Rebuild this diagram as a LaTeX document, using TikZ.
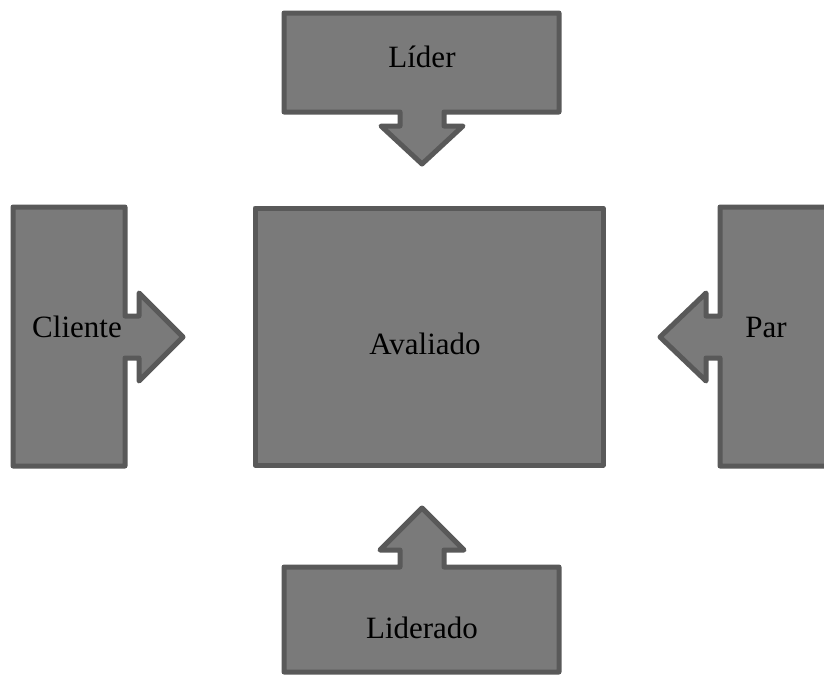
\documentclass[tikz,border=0pt]{standalone}
\usepackage{fontspec}
\setmainfont{Liberation Serif}
\definecolor{shapefill}{HTML}{7A7A7A}
\definecolor{shapeedge}{HTML}{595959}
\tikzset{
  calloutshape/.style={fill=shapefill, draw=shapeedge, line width=5pt, line join=round},
  label/.style={anchor=base, inner sep=0pt, font=\fontsize{31}{36}\selectfont, text=black}
}
\begin{document}
\begin{tikzpicture}[x=1pt,y=-1pt]
  \useasboundingbox (0,0) rectangle (824,675);
  \clip (0,0) rectangle (824,675);

  % Central box
  \draw[calloutshape] (255,208) rectangle (603,465);
  \node[label] (avaliado) at (425,354) {Avaliado};

  % Top callout, pointing down
  \draw[calloutshape] (284,13) -- (559,13) -- (559,112) -- (444,112) -- (444,126)
    -- (463,126) -- (422,164) -- (381,126) -- (400,126) -- (400,112) -- (284,112) -- cycle;
  \node[label] (lider) at (422,67) {Líder};

  % Bottom callout, pointing up
  \draw[calloutshape] (284,672) -- (284,567) -- (400,567) -- (400,550) -- (380,550)
    -- (422,508) -- (464,550) -- (444,550) -- (444,567) -- (559,567) -- (559,672) -- cycle;
  \node[label] (liderado) at (422,638) {Liderado};

  % Left callout, pointing right
  \draw[calloutshape] (13,207) -- (125,207) -- (125,316) -- (139,316) -- (139,293)
    -- (183,337) -- (139,381) -- (139,358) -- (125,358) -- (125,466) -- (13,466) -- cycle;
  \node[label] (cliente) at (77,337) {Cliente};

  % Right callout, pointing left
  \draw[calloutshape] (840,207) -- (720,207) -- (720,316) -- (706,316) -- (706,293)
    -- (660,337) -- (706,381) -- (706,358) -- (720,358) -- (720,466) -- (840,466) -- cycle;
  \node[label] (par) at (766,337) {Par};
\end{tikzpicture}
\end{document}
